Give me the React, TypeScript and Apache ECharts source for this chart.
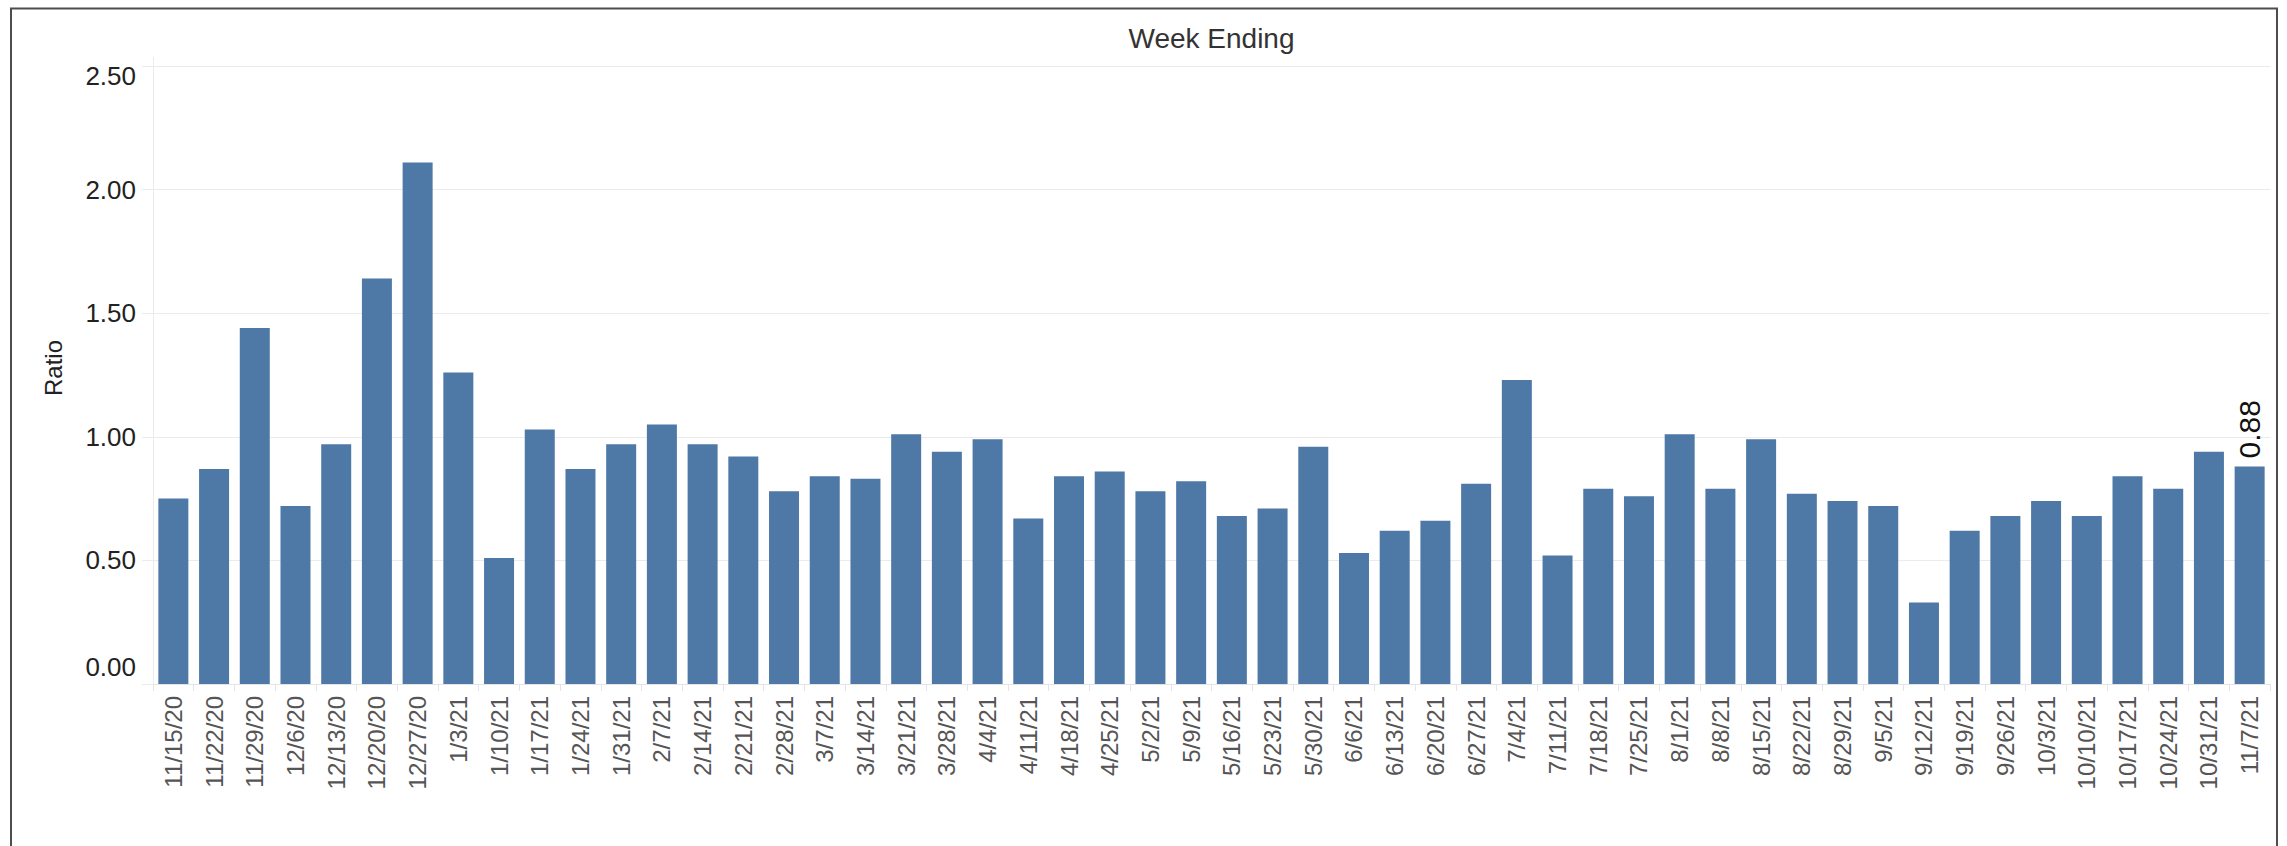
import React, { useEffect, useRef } from "react";
import * as echarts from "echarts";

const categories: string[] = [
  "11/15/20", "11/22/20", "11/29/20", "12/6/20", "12/13/20", "12/20/20", "12/27/20",
  "1/3/21", "1/10/21", "1/17/21", "1/24/21", "1/31/21", "2/7/21", "2/14/21", "2/21/21",
  "2/28/21", "3/7/21", "3/14/21", "3/21/21", "3/28/21", "4/4/21", "4/11/21", "4/18/21",
  "4/25/21", "5/2/21", "5/9/21", "5/16/21", "5/23/21", "5/30/21", "6/6/21", "6/13/21",
  "6/20/21", "6/27/21", "7/4/21", "7/11/21", "7/18/21", "7/25/21", "8/1/21", "8/8/21",
  "8/15/21", "8/22/21", "8/29/21", "9/5/21", "9/12/21", "9/19/21", "9/26/21", "10/3/21",
  "10/10/21", "10/17/21", "10/24/21", "10/31/21", "11/7/21",
];

const ratioValues: number[] = [
  0.75, 0.87, 1.44, 0.72, 0.97, 1.64, 2.11, 1.26, 0.51, 1.03,
  0.87, 0.97, 1.05, 0.97, 0.92, 0.78, 0.84, 0.83, 1.01, 0.94,
  0.99, 0.67, 0.84, 0.86, 0.78, 0.82, 0.68, 0.71, 0.96, 0.53,
  0.62, 0.66, 0.81, 1.23, 0.52, 0.79, 0.76, 1.01, 0.79, 0.99,
  0.77, 0.74, 0.72, 0.33, 0.62, 0.68, 0.74, 0.68, 0.84, 0.79,
  0.94, 0.88,
];

const yTicks = { min: 0, max: 2.5, interval: 0.5 };
const titleText = "Week Ending";
const yAxisTitle = "Ratio";

const FONT = "'Liberation Sans', Arial, Helvetica, sans-serif";
const W = 2287;
const H = 846;
const GRID_LEFT = 153;
const GRID_RIGHT = 17;
const GRID_TOP = 66;
const GRID_BOTTOM = 162;

export default function App() {
  const ref = useRef<HTMLDivElement>(null);

  useEffect(() => {
    if (!ref.current) return;
    const chart = echarts.init(ref.current, undefined, { renderer: "svg" });
    const lastIdx = ratioValues.length - 1;
    const seriesData = ratioValues.map((v, i) =>
      i === lastIdx
        ? {
            value: v,
            label: {
              show: true,
              position: "top",
              rotate: 90,
              align: "left",
              verticalAlign: "middle",
              distance: 8,
              fontSize: 30,
              color: "#111",
              fontFamily: FONT,
              formatter: (p: any) => Number(p.value).toFixed(2),
            },
          }
        : v
    );
    const plotCenterX = GRID_LEFT + (W - GRID_RIGHT - GRID_LEFT) / 2;

    chart.setOption({
      animation: false,
      backgroundColor: "#ffffff",
      textStyle: { fontFamily: FONT },
      grid: { left: GRID_LEFT, right: GRID_RIGHT, top: GRID_TOP, bottom: GRID_BOTTOM, containLabel: false },
      xAxis: {
        type: "category",
        data: categories,
        axisLine: { show: true, lineStyle: { color: "#e4e4e4", width: 1 } },
        axisTick: { show: true, length: 7, lineStyle: { color: "#e4e4e4" } },
        axisLabel: {
          rotate: 90,
          interval: 0,
          fontSize: 24,
          color: "#555555",
          margin: 12,
          fontFamily: FONT,
        },
      },
      yAxis: {
        type: "value",
        min: yTicks.min,
        max: yTicks.max,
        interval: yTicks.interval,
        axisLine: { show: false },
        axisTick: { show: true, length: 11, lineStyle: { color: "#ebebeb" } },
        splitLine: { show: true, lineStyle: { color: "#ebebeb", width: 1 } },
        axisLabel: {
          fontSize: 26,
          color: "#222222",
          margin: 17,
          fontFamily: FONT,
          formatter: (v: number) => {
            const s = v.toFixed(2);
            if (v === yTicks.max) return "{top|" + s + "}";
            if (v === yTicks.min) return "{bot|" + s + "}";
            return s;
          },
          rich: {
            top: { fontSize: 26, color: "#222222", fontFamily: FONT, padding: [20, 0, 0, 0] },
            bot: { fontSize: 26, color: "#222222", fontFamily: FONT, padding: [0, 0, 35, 0] },
          },
        },
      },
      series: [
        {
          type: "bar",
          data: seriesData,
          barWidth: 30,
          itemStyle: { color: "#4e79a7" },
        },
      ],
      graphic: [
        {
          type: "rect",
          shape: { x: 11, y: 8.5, width: 2266, height: 900 },
          style: { fill: "none", stroke: "#4d4d4d", lineWidth: 2 },
          silent: true,
        },
        {
          type: "line",
          shape: { x1: GRID_LEFT + 0.5, y1: 57, x2: GRID_LEFT + 0.5, y2: H - GRID_BOTTOM },
          style: { stroke: "#ebebeb", lineWidth: 1 },
          silent: true,
        },
        {
          type: "text",
          x: plotCenterX,
          y: 38.5,
          style: {
            text: titleText,
            fontSize: 28,
            fill: "#333333",
            fontFamily: FONT,
            align: "center",
            verticalAlign: "middle",
          },
        },
        {
          type: "text",
          x: 53,
          y: 368,
          rotation: Math.PI / 2,
          style: {
            text: yAxisTitle,
            fontSize: 24,
            fill: "#222222",
            fontFamily: FONT,
            align: "center",
            verticalAlign: "middle",
          },
        },
      ],
    });

    return () => {
      chart.dispose();
    };
  }, []);

  return (
    <div
      ref={ref}
      style={{ position: "absolute", left: 0, top: 0, width: W + "px", height: H + "px" }}
    />
  );
}
